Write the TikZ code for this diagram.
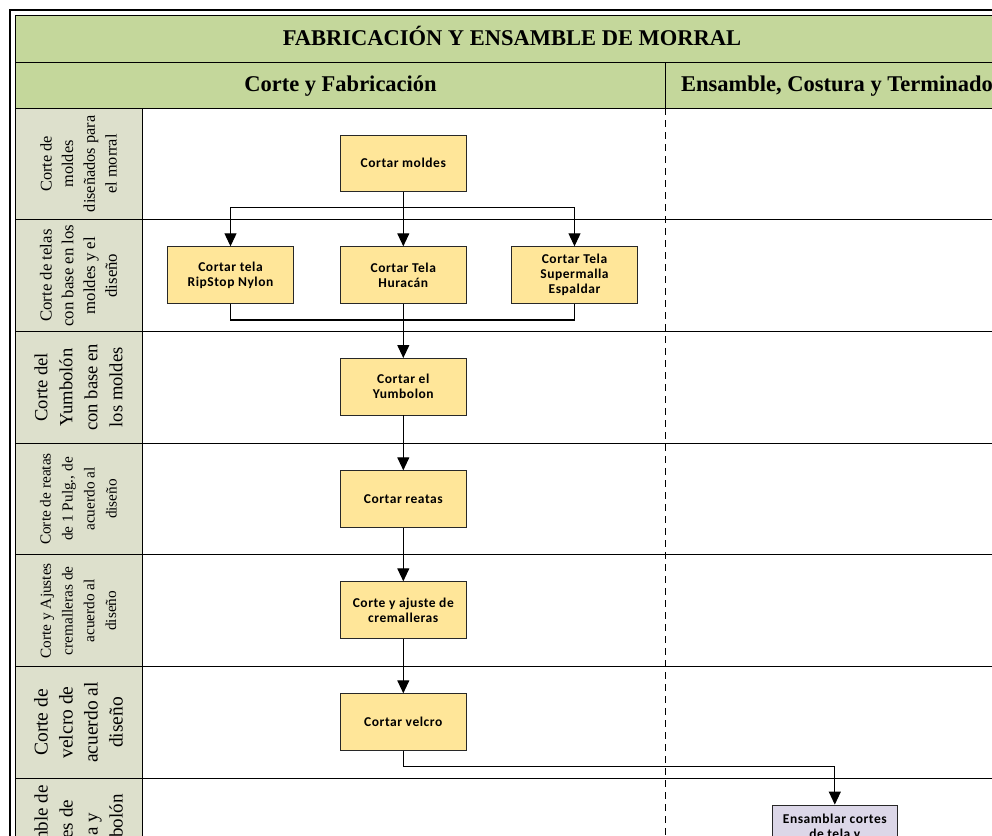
\documentclass[tikz,border=0pt]{standalone}
\usepackage{fontspec}
\setmainfont{Liberation Serif}
\newfontfamily\boxfont[LetterSpace=4]{Carlito}
\usetikzlibrary{arrows.meta}

\definecolor{bandgreen}{RGB}{196,215,155}
\definecolor{lanegrey}{RGB}{221,224,204}
\definecolor{taskyellow}{RGB}{255,230,153}
\definecolor{tasklilac}{RGB}{220,215,232}
\definecolor{edgegrey}{RGB}{40,40,40}

\tikzset{
  x=1pt, y=-1pt,
  frame/.style={draw=black, line width=1pt},
  task/.style={draw=edgegrey, line width=0.9pt, fill=taskyellow,
    minimum width=125.5pt, minimum height=56.5pt, inner sep=2pt,
    align=center, font=\boxfont\bfseries\fontsize{13.5}{15}\selectfont},
  assembly/.style={task, fill=tasklilac},
  lanelabel/.style={rotate=90, align=center, inner sep=0pt},
  header/.style={anchor=base, font=\bfseries\fontsize{22.5}{26}\selectfont},
  flow/.style={draw=black, line width=1.1pt},
  arrowflow/.style={flow, -{Triangle[length=13pt,width=12pt]}},
}

\begin{document}
\begin{tikzpicture}
\useasboundingbox (0,0) rectangle (992,835);
\clip (0,0) rectangle (992,835);

% bands and label column
\fill[bandgreen] (15.5,15.5) rectangle (1010,108);
\fill[lanegrey] (15.5,108) rectangle (142,900);

% outer double frame
\draw[line width=2pt] (10,10) rectangle (1016,900);
\draw[frame] (15.5,15.5) rectangle (1010,900);

% header grid
\draw[frame] (15.5,62) -- (1010,62);
\draw[frame] (15.5,108) -- (1010,108);
\draw[frame] (665,62) -- (665,108);
\draw[frame] (142,108) -- (142,900);
\draw[black, line width=0.9pt, dash pattern=on 7pt off 5pt] (665,108) -- (665,900);

% lane separators
\foreach \yy in {219.7,331.4,443.1,554.8,666.5,778.2}
  \draw[frame] (15.5,\yy) -- (1010,\yy);

% headings
\node[header] (title) at (512,45.5) {FABRICACIÓN Y ENSAMBLE DE MORRAL};
\node[header] (colA) at (340.5,91.5) {Corte y Fabricación};
\node[header] (colB) at (837,91.5) {Ensamble, Costura y Terminado};

% lane labels
\node[lanelabel, font=\fontsize{16.3}{21.7}\selectfont] (laneA) at (78.5,163.9)
  {Corte de\\moldes\\diseñados para\\el morral};
\node[lanelabel, font=\fontsize{16.8}{21.7}\selectfont] (laneB) at (78.5,275.6)
  {Corte de telas\\con base en los\\moldes y el\\diseño};
\node[lanelabel, font=\fontsize{18.6}{25}\selectfont] (laneC) at (78.5,387.3)
  {Corte del\\Yumbolón\\con base en\\los moldes};
\node[lanelabel, font=\fontsize{15.3}{22}\selectfont] (laneD) at (78.5,499)
  {Corte de reatas\\de 1 Pulg., de\\acuerdo al\\diseño};
\node[lanelabel, font=\fontsize{15.3}{21.7}\selectfont] (laneE) at (78.5,610.7)
  {Corte y Ajustes\\cremalleras de\\acuerdo al\\diseño};
\node[lanelabel, font=\fontsize{19.5}{25}\selectfont] (laneF) at (78.5,722.4)
  {Corte de\\velcro de\\acuerdo al\\diseño};
\node[lanelabel, font=\fontsize{19}{25}\selectfont] (laneG) at (78.5,834)
  {Ensamble de\\cortes de\\tela y\\Yumbolón};

% tasks
\node[task] (moldes) at (403.3,163.3) {Cortar moldes};
\node[task] (ripstop) at (230.5,275) {Cortar tela\\RipStop Nylon};
\node[task] (huracan) at (403.3,275) {Cortar Tela\\Huracán};
\node[task] (supermalla) at (574.5,275) {Cortar Tela\\Supermalla\\Espaldar};
\node[task] (yumbolon) at (403.3,386.7) {Cortar el\\Yumbolon};
\node[task] (reatas) at (403.3,499) {Cortar reatas};
\node[task] (cremalleras) at (403.3,610) {Corte y ajuste de\\cremalleras};
\node[task] (velcro) at (403.3,722) {Cortar velcro};
\node[assembly] (ensamblar) at (834.8,833.3) {Ensamblar cortes\\de tela y\\Yumbolón};

% connectors
\coordinate (split) at (403.3,207.7);
\coordinate (merge) at (403.3,320);
\coordinate (bend) at (403.3,766.7);

\draw[flow] (moldes.south) -- (split);
\draw[arrowflow] (split) -| (ripstop.north);
\draw[arrowflow] (split) -- (huracan.north);
\draw[arrowflow] (split) -| (supermalla.north);

\draw[flow] (ripstop.south) |- (merge);
\draw[flow] (supermalla.south) |- (merge);
\draw[arrowflow] (huracan.south) -- (yumbolon.north);

\draw[arrowflow] (yumbolon.south) -- (reatas.north);
\draw[arrowflow] (reatas.south) -- (cremalleras.north);
\draw[arrowflow] (cremalleras.south) -- (velcro.north);
\draw[flow] (velcro.south) -- (bend);
\draw[arrowflow] (bend) -| (ensamblar.north);
\end{tikzpicture}
\end{document}
